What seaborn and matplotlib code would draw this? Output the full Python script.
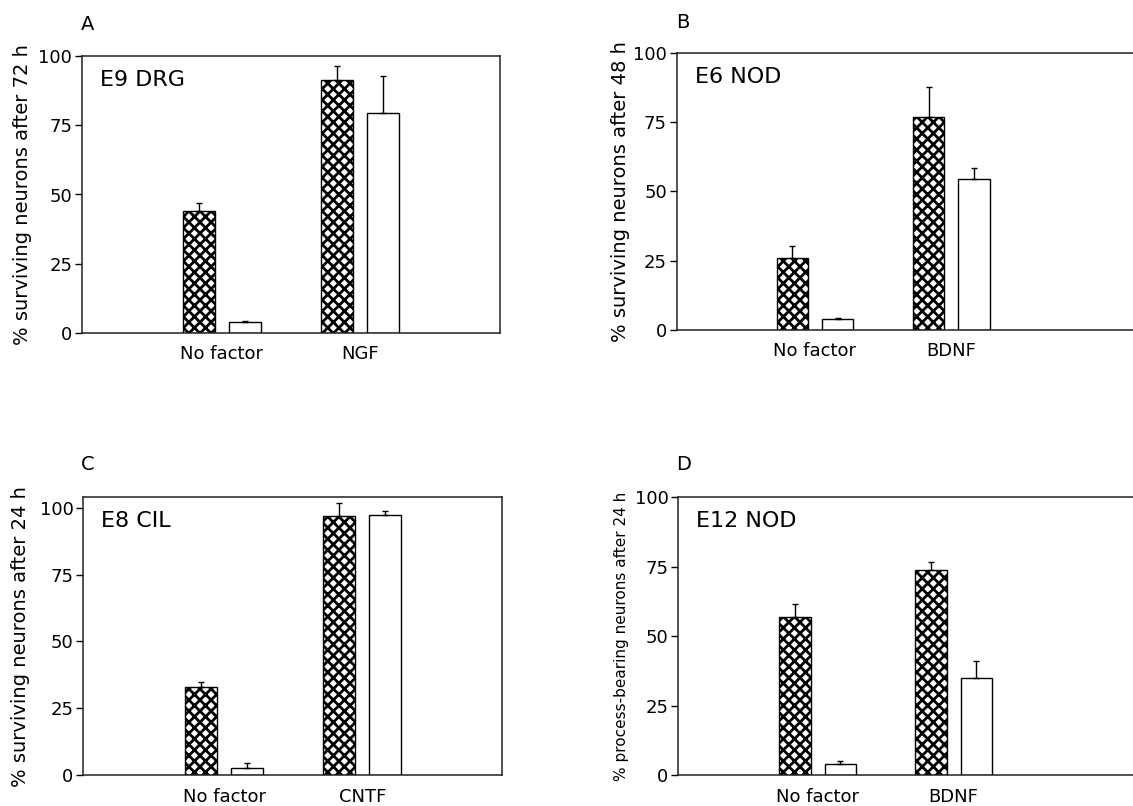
import matplotlib
matplotlib.use("Agg")
import matplotlib.pyplot as plt
import pandas as pd
import seaborn as sns

# ---------------- data ----------------
conditions = ["hatched", "open"]

cats_A = ["No factor", "NGF"]
A_hatched = [44.0, 91.3]
A_hatched_err = [3.0, 5.0]
A_open = [3.9, 79.3]
A_open_err = [0.4, 13.3]

cats_B = ["No factor", "BDNF"]
B_hatched = [26.1, 76.9]
B_hatched_err = [4.3, 10.6]
B_open = [3.8, 54.5]
B_open_err = [0.4, 4.0]

cats_C = ["No factor", "CNTF"]
C_hatched = [33.1, 96.9]
C_hatched_err = [1.7, 5.0]
C_open = [2.7, 97.4]
C_open_err = [1.7, 1.6]

cats_D = ["No factor", "BDNF"]
D_hatched = [56.8, 73.8]
D_hatched_err = [4.8, 2.8]
D_open = [3.9, 34.8]
D_open_err = [1.3, 6.2]

panel_letters = ["A", "B", "C", "D"]
panel_titles = ["E9 DRG", "E6 NOD", "E8 CIL", "E12 NOD"]
ylabels = ["% surviving neurons after 72 h",
           "% surviving neurons after 48 h",
           "% surviving neurons after 24 h",
           "% process-bearing neurons after 24 h"]
yticks = [0, 25, 50, 75, 100]

# ---------------- style ----------------
sns.set_style("ticks")
plt.rcParams["font.family"] = ["DejaVu Sans"]
plt.rcParams["hatch.linewidth"] = 2.0
plt.rcParams["hatch.color"] = "#222222"
plt.rcParams["text.color"] = "black"
plt.rcParams["axes.labelcolor"] = "black"
plt.rcParams["xtick.color"] = "black"
plt.rcParams["ytick.color"] = "black"

W, H = 1133, 806
fig = plt.figure(figsize=(W / 100, H / 100), dpi=100)
fig.patch.set_facecolor("white")


def px_axes(left, top, right, bottom):
    return [left / W, 1 - bottom / H, (right - left) / W, (bottom - top) / H]


panels = [
    dict(cats=cats_A, h=A_hatched, he=A_hatched_err, o=A_open, oe=A_open_err,
         rect=px_axes(82, 56, 500, 333), xlim=(-1.014, 2.014), ylim=(0, 100),
         right=True, lab_x=-0.1435, lab_fs=14, letter=(88, 25)),
    dict(cats=cats_B, h=B_hatched, he=B_hatched_err, o=B_open, oe=B_open_err,
         rect=px_axes(676.7, 52.7, 1133, 330), xlim=(-1.013, 2.33), ylim=(0, 100),
         right=False, lab_x=-0.124, lab_fs=14, letter=(683, 22)),
    dict(cats=cats_C, h=C_hatched, he=C_hatched_err, o=C_open, oe=C_open_err,
         rect=px_axes(83.3, 497.3, 501.7, 775), xlim=(-1.02, 2.01), ylim=(0, 104),
         right=True, lab_x=-0.151, lab_fs=14, letter=(88, 464)),
    dict(cats=cats_D, h=D_hatched, he=D_hatched_err, o=D_open, oe=D_open_err,
         rect=px_axes(678.3, 497.3, 1133, 775), xlim=(-1.025, 2.32), ylim=(0, 100),
         right=False, lab_x=-0.124, lab_fs=11, letter=(684, 465)),
]

for i, p in enumerate(panels):
    ax = fig.add_axes(p["rect"])
    df = pd.DataFrame({
        "category": p["cats"] + p["cats"],
        "condition": [conditions[0]] * 2 + [conditions[1]] * 2,
        "value": p["h"] + p["o"],
    })
    sns.barplot(data=df, x="category", y="value", hue="condition",
                order=p["cats"], hue_order=conditions,
                palette={conditions[0]: "white", conditions[1]: "white"},
                width=0.664, gap=0.31, errorbar=None, legend=False,
                edgecolor="black", linewidth=1.0, saturation=1, ax=ax)

    errs = [p["he"], p["oe"]]
    bar_conts = list(ax.containers)
    for ci, cont in enumerate(bar_conts):
        for bi, bar in enumerate(cont.patches):
            if ci == 0:
                bar.set_hatch("xxx")
            xc = bar.get_x() + bar.get_width() / 2
            hgt = bar.get_height()
            ax.errorbar([xc], [hgt], yerr=[[0], [errs[ci][bi]]], fmt="none",
                        ecolor="black", elinewidth=1.0, capsize=2.0,
                        capthick=1.0)

    ax.set_xlim(*p["xlim"])
    ax.set_ylim(*p["ylim"])
    ax.set_yticks(yticks)
    ax.set_xlabel("")
    ax.set_ylabel(ylabels[i], fontsize=p["lab_fs"], va="center")
    ax.yaxis.set_label_coords(p["lab_x"], 0.5)
    ax.tick_params(axis="y", direction="out", length=5, width=1,
                   labelsize=13, pad=2)
    ax.tick_params(axis="x", length=0, labelsize=13, pad=9)
    for s in ["left", "bottom", "top", "right"]:
        ax.spines[s].set_color("#222222")
        ax.spines[s].set_linewidth(1.1)
    ax.spines["right"].set_visible(p["right"])
    ax.spines["top"].set_visible(True)

    ax.annotate(panel_titles[i], xy=(0, 1), xycoords="axes fraction",
                xytext=(18, -24), textcoords="offset pixels",
                ha="left", va="center", fontsize=16)

    lx, ly = p["letter"]
    fig.text(lx / W, 1 - ly / H, panel_letters[i], ha="center", va="center",
             fontsize=14)

fig.savefig("out.png", dpi=100, facecolor="white")
